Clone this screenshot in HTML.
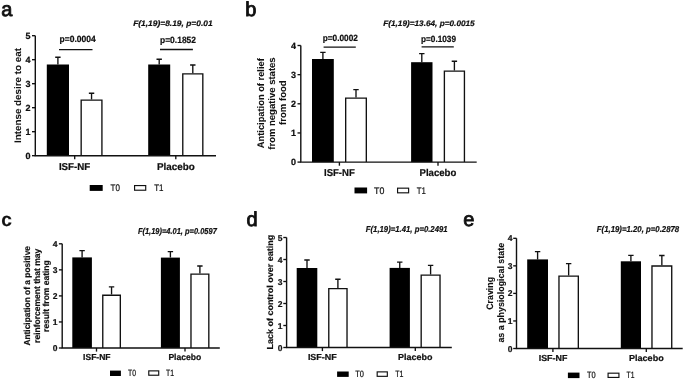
<!DOCTYPE html>
<html><head><meta charset="utf-8"><title>Figure</title>
<style>
html,body{margin:0;padding:0;background:#fff;}
body{width:685px;height:380px;overflow:hidden;}
svg{display:block;font-family:"Liberation Sans", sans-serif;filter:grayscale(1) blur(0.35px);}
text{stroke:#111;stroke-width:0.22px;text-rendering:geometricPrecision;}
</style></head><body>
<svg width="685" height="380" viewBox="0 0 685 380" fill="#111">
<rect width="685" height="380" fill="#fff"/>
<path d="M57.90 64.50 V57.20 M55.20 57.20 H60.60" stroke="#111" stroke-width="1.35"/>
<rect x="46.80" y="64.50" width="22.20" height="91.20" fill="#000"/>
<path d="M91.55 99.50 V93.20 M88.85 93.20 H94.25" stroke="#111" stroke-width="1.35"/>
<path d="M81.17 155.70 V100.17 H101.92 V155.70" fill="#fff" stroke="#111" stroke-width="1.35"/>
<path d="M159.20 64.50 V59.20 M156.50 59.20 H161.90" stroke="#111" stroke-width="1.35"/>
<rect x="148.20" y="64.50" width="22.00" height="91.20" fill="#000"/>
<path d="M192.80 73.20 V65.00 M190.10 65.00 H195.50" stroke="#111" stroke-width="1.35"/>
<path d="M182.78 155.70 V73.88 H202.82 V155.70" fill="#fff" stroke="#111" stroke-width="1.35"/>
<path d="M35.30 35.70 V155.70 H216.00" stroke="#111" stroke-width="1.4" fill="none"/>
<path d="M32.00 155.70 H35.30" stroke="#111" stroke-width="1.35"/>
<text x="30.60" y="158.94" font-size="9" font-weight="bold" text-anchor="end">0</text>
<path d="M32.00 131.70 H35.30" stroke="#111" stroke-width="1.35"/>
<text x="30.60" y="134.94" font-size="9" font-weight="bold" text-anchor="end">1</text>
<path d="M32.00 107.70 H35.30" stroke="#111" stroke-width="1.35"/>
<text x="30.60" y="110.94" font-size="9" font-weight="bold" text-anchor="end">2</text>
<path d="M32.00 83.70 H35.30" stroke="#111" stroke-width="1.35"/>
<text x="30.60" y="86.94" font-size="9" font-weight="bold" text-anchor="end">3</text>
<path d="M32.00 59.70 H35.30" stroke="#111" stroke-width="1.35"/>
<text x="30.60" y="62.94" font-size="9" font-weight="bold" text-anchor="end">4</text>
<path d="M32.00 35.70 H35.30" stroke="#111" stroke-width="1.35"/>
<text x="30.60" y="38.94" font-size="9" font-weight="bold" text-anchor="end">5</text>
<path d="M74.70 155.70 V159.30" stroke="#111" stroke-width="1.35"/>
<path d="M175.80 155.70 V159.30" stroke="#111" stroke-width="1.35"/>
<text x="74.60" y="170.00" font-size="10" font-weight="bold" text-anchor="middle" textLength="31.4" lengthAdjust="spacingAndGlyphs">ISF-NF</text>
<text x="175.90" y="169.80" font-size="10" font-weight="bold" text-anchor="middle" textLength="37.8" lengthAdjust="spacingAndGlyphs">Placebo</text>
<text x="77.60" y="42.20" font-size="9" font-weight="bold" text-anchor="middle" textLength="36.2" lengthAdjust="spacingAndGlyphs">p=0.0004</text>
<path d="M59.00 49.60 H92.50" stroke="#111" stroke-width="1.35"/>
<text x="178.00" y="42.60" font-size="9" font-weight="bold" text-anchor="middle" textLength="36.0" lengthAdjust="spacingAndGlyphs">p=0.1852</text>
<path d="M160.00 49.50 H192.90" stroke="#111" stroke-width="1.35"/>
<text x="172.90" y="26.30" font-size="8" font-weight="bold" font-style="italic" text-anchor="middle" textLength="79.4" lengthAdjust="spacingAndGlyphs">F(1,19)=8.19, p=0.01</text>
<rect x="89.70" y="185.00" width="13.00" height="5.90" fill="#000"/>
<rect x="134.57" y="185.57" width="11.15" height="4.65" fill="#fff" stroke="#111" stroke-width="1.15"/>
<text x="115.30" y="191.20" font-size="9.6" text-anchor="middle" textLength="9.4" lengthAdjust="spacingAndGlyphs">T0</text>
<text x="158.85" y="191.20" font-size="9.6" text-anchor="middle" textLength="9.3" lengthAdjust="spacingAndGlyphs">T1</text>
<text transform="translate(20.60 95.50) rotate(-90)" font-size="9.5" font-weight="bold" style="stroke-width:0.05px" text-anchor="middle" textLength="95.0" lengthAdjust="spacingAndGlyphs">Intense desire to eat</text>
<text x="1.30" y="15.80" font-size="20" text-anchor="start" style="stroke-width:0.85px">a</text>
<path d="M322.90 59.00 V52.30 M320.20 52.30 H325.60" stroke="#111" stroke-width="1.35"/>
<rect x="312.00" y="59.00" width="21.80" height="103.10" fill="#000"/>
<path d="M356.00 97.40 V89.60 M353.30 89.60 H358.70" stroke="#111" stroke-width="1.35"/>
<path d="M345.68 162.10 V98.08 H366.32 V162.10" fill="#fff" stroke="#111" stroke-width="1.35"/>
<path d="M421.80 62.20 V53.60 M419.10 53.60 H424.50" stroke="#111" stroke-width="1.35"/>
<rect x="411.10" y="62.20" width="21.40" height="99.90" fill="#000"/>
<path d="M454.40 70.40 V61.20 M451.70 61.20 H457.10" stroke="#111" stroke-width="1.35"/>
<path d="M444.38 162.10 V71.08 H464.43 V162.10" fill="#fff" stroke="#111" stroke-width="1.35"/>
<path d="M300.80 45.50 V162.10 H476.70" stroke="#111" stroke-width="1.4" fill="none"/>
<path d="M297.50 162.10 H300.80" stroke="#111" stroke-width="1.35"/>
<text x="296.00" y="165.34" font-size="9" font-weight="bold" text-anchor="end">0</text>
<path d="M297.50 132.95 H300.80" stroke="#111" stroke-width="1.35"/>
<text x="296.00" y="136.19" font-size="9" font-weight="bold" text-anchor="end">1</text>
<path d="M297.50 103.80 H300.80" stroke="#111" stroke-width="1.35"/>
<text x="296.00" y="107.04" font-size="9" font-weight="bold" text-anchor="end">2</text>
<path d="M297.50 74.65 H300.80" stroke="#111" stroke-width="1.35"/>
<text x="296.00" y="77.89" font-size="9" font-weight="bold" text-anchor="end">3</text>
<path d="M297.50 45.50 H300.80" stroke="#111" stroke-width="1.35"/>
<text x="296.00" y="48.74" font-size="9" font-weight="bold" text-anchor="end">4</text>
<path d="M339.40 162.10 V165.70" stroke="#111" stroke-width="1.35"/>
<path d="M438.00 162.10 V165.70" stroke="#111" stroke-width="1.35"/>
<text x="339.40" y="176.00" font-size="10" font-weight="bold" text-anchor="middle" textLength="30.8" lengthAdjust="spacingAndGlyphs">ISF-NF</text>
<text x="437.90" y="175.50" font-size="10" font-weight="bold" text-anchor="middle" textLength="36.8" lengthAdjust="spacingAndGlyphs">Placebo</text>
<text x="340.30" y="41.30" font-size="9" font-weight="bold" text-anchor="middle" textLength="35.2" lengthAdjust="spacingAndGlyphs">p=0.0002</text>
<path d="M323.60 47.10 H355.80" stroke="#111" stroke-width="1.35"/>
<text x="438.50" y="42.40" font-size="9" font-weight="bold" text-anchor="middle" textLength="35.0" lengthAdjust="spacingAndGlyphs">p=0.1039</text>
<path d="M421.60 46.80 H453.80" stroke="#111" stroke-width="1.35"/>
<text x="428.95" y="26.30" font-size="8" font-weight="bold" font-style="italic" text-anchor="middle" textLength="91.5" lengthAdjust="spacingAndGlyphs">F(1,19)=13.64, p=0.0015</text>
<rect x="354.50" y="187.50" width="12.60" height="5.90" fill="#000"/>
<rect x="397.57" y="188.17" width="11.05" height="4.65" fill="#fff" stroke="#111" stroke-width="1.15"/>
<text x="379.15" y="193.70" font-size="9.6" text-anchor="middle" textLength="10.3" lengthAdjust="spacingAndGlyphs">T0</text>
<text x="421.25" y="193.70" font-size="9.6" text-anchor="middle" textLength="9.1" lengthAdjust="spacingAndGlyphs">T1</text>
<text transform="translate(264.40 103.20) rotate(-90)" font-size="9.5" font-weight="bold" style="stroke-width:0.05px" text-anchor="middle" textLength="90.0" lengthAdjust="spacingAndGlyphs">Anticipation of relief</text>
<text transform="translate(274.80 103.55) rotate(-90)" font-size="9.5" font-weight="bold" style="stroke-width:0.05px" text-anchor="middle" textLength="92.3" lengthAdjust="spacingAndGlyphs">from negative states</text>
<text transform="translate(285.80 102.60) rotate(-90)" font-size="9.5" font-weight="bold" style="stroke-width:0.05px" text-anchor="middle" textLength="44.6" lengthAdjust="spacingAndGlyphs">from food</text>
<text x="245.30" y="15.80" font-size="20" text-anchor="start" style="stroke-width:0.85px">b</text>
<path d="M82.10 257.40 V250.60 M79.40 250.60 H84.80" stroke="#111" stroke-width="1.35"/>
<rect x="72.30" y="257.40" width="19.60" height="90.60" fill="#000"/>
<path d="M111.55 294.60 V286.90 M108.85 286.90 H114.25" stroke="#111" stroke-width="1.35"/>
<path d="M102.77 348.00 V295.28 H120.33 V348.00" fill="#fff" stroke="#111" stroke-width="1.35"/>
<path d="M170.40 257.60 V251.60 M167.70 251.60 H173.10" stroke="#111" stroke-width="1.35"/>
<rect x="160.90" y="257.60" width="19.00" height="90.40" fill="#000"/>
<path d="M199.90 273.40 V266.00 M197.20 266.00 H202.60" stroke="#111" stroke-width="1.35"/>
<path d="M190.98 348.00 V274.07 H208.82 V348.00" fill="#fff" stroke="#111" stroke-width="1.35"/>
<path d="M62.20 243.80 V348.00 H219.80" stroke="#111" stroke-width="1.4" fill="none"/>
<path d="M58.90 348.00 H62.20" stroke="#111" stroke-width="1.35"/>
<text x="57.50" y="351.06" font-size="8.5" font-weight="bold" text-anchor="end">0</text>
<path d="M58.90 321.95 H62.20" stroke="#111" stroke-width="1.35"/>
<text x="57.50" y="325.01" font-size="8.5" font-weight="bold" text-anchor="end">1</text>
<path d="M58.90 295.90 H62.20" stroke="#111" stroke-width="1.35"/>
<text x="57.50" y="298.96" font-size="8.5" font-weight="bold" text-anchor="end">2</text>
<path d="M58.90 269.85 H62.20" stroke="#111" stroke-width="1.35"/>
<text x="57.50" y="272.91" font-size="8.5" font-weight="bold" text-anchor="end">3</text>
<path d="M58.90 243.80 H62.20" stroke="#111" stroke-width="1.35"/>
<text x="57.50" y="246.86" font-size="8.5" font-weight="bold" text-anchor="end">4</text>
<path d="M96.50 348.00 V351.60" stroke="#111" stroke-width="1.35"/>
<path d="M185.00 348.00 V351.60" stroke="#111" stroke-width="1.35"/>
<text x="96.85" y="360.30" font-size="8.7" font-weight="bold" text-anchor="middle" textLength="27.5" lengthAdjust="spacingAndGlyphs">ISF-NF</text>
<text x="184.85" y="360.30" font-size="8.7" font-weight="bold" text-anchor="middle" textLength="32.9" lengthAdjust="spacingAndGlyphs">Placebo</text>
<text x="177.35" y="234.00" font-size="8.6" font-weight="bold" font-style="italic" text-anchor="middle" textLength="78.9" lengthAdjust="spacingAndGlyphs">F(1,19)=4.01, p=0.0597</text>
<rect x="110.00" y="370.60" width="10.90" height="5.40" fill="#000"/>
<rect x="148.77" y="370.88" width="9.95" height="4.35" fill="#fff" stroke="#111" stroke-width="1.15"/>
<text x="132.00" y="376.40" font-size="9" text-anchor="middle" textLength="8.0" lengthAdjust="spacingAndGlyphs">T0</text>
<text x="170.00" y="376.40" font-size="9" text-anchor="middle" textLength="8.0" lengthAdjust="spacingAndGlyphs">T1</text>
<text transform="translate(29.60 295.80) rotate(-90)" font-size="8.7" font-weight="bold" style="stroke-width:0.18px" text-anchor="middle" textLength="99.6" lengthAdjust="spacingAndGlyphs">Anticipation of a positive</text>
<text transform="translate(39.60 295.85) rotate(-90)" font-size="8.7" font-weight="bold" style="stroke-width:0.18px" text-anchor="middle" textLength="94.1" lengthAdjust="spacingAndGlyphs">reinforcement that may</text>
<text transform="translate(49.40 296.10) rotate(-90)" font-size="8.7" font-weight="bold" style="stroke-width:0.18px" text-anchor="middle" textLength="71.6" lengthAdjust="spacingAndGlyphs">result from eating</text>
<text x="1.20" y="225.70" font-size="19" font-weight="bold" text-anchor="start">c</text>
<path d="M307.00 268.00 V260.00 M304.30 260.00 H309.70" stroke="#111" stroke-width="1.35"/>
<rect x="296.70" y="268.00" width="20.60" height="79.50" fill="#000"/>
<path d="M337.90 288.00 V279.20 M335.20 279.20 H340.60" stroke="#111" stroke-width="1.35"/>
<path d="M328.78 347.50 V288.68 H347.02 V347.50" fill="#fff" stroke="#111" stroke-width="1.35"/>
<path d="M399.75 267.90 V262.10 M397.05 262.10 H402.45" stroke="#111" stroke-width="1.35"/>
<rect x="389.60" y="267.90" width="20.30" height="79.60" fill="#000"/>
<path d="M430.60 274.50 V265.30 M427.90 265.30 H433.30" stroke="#111" stroke-width="1.35"/>
<path d="M421.18 347.50 V275.18 H440.02 V347.50" fill="#fff" stroke="#111" stroke-width="1.35"/>
<path d="M286.60 237.50 V347.50 H451.80" stroke="#111" stroke-width="1.4" fill="none"/>
<path d="M283.30 347.50 H286.60" stroke="#111" stroke-width="1.35"/>
<text x="282.40" y="350.56" font-size="8.5" font-weight="bold" text-anchor="end">0</text>
<path d="M283.30 325.50 H286.60" stroke="#111" stroke-width="1.35"/>
<text x="282.40" y="328.56" font-size="8.5" font-weight="bold" text-anchor="end">1</text>
<path d="M283.30 303.50 H286.60" stroke="#111" stroke-width="1.35"/>
<text x="282.40" y="306.56" font-size="8.5" font-weight="bold" text-anchor="end">2</text>
<path d="M283.30 281.50 H286.60" stroke="#111" stroke-width="1.35"/>
<text x="282.40" y="284.56" font-size="8.5" font-weight="bold" text-anchor="end">3</text>
<path d="M283.30 259.50 H286.60" stroke="#111" stroke-width="1.35"/>
<text x="282.40" y="262.56" font-size="8.5" font-weight="bold" text-anchor="end">4</text>
<path d="M283.30 237.50 H286.60" stroke="#111" stroke-width="1.35"/>
<text x="282.40" y="240.56" font-size="8.5" font-weight="bold" text-anchor="end">5</text>
<path d="M322.40 347.50 V351.10" stroke="#111" stroke-width="1.35"/>
<path d="M415.30 347.50 V351.10" stroke="#111" stroke-width="1.35"/>
<text x="322.30" y="360.30" font-size="8.7" font-weight="bold" text-anchor="middle" textLength="28.8" lengthAdjust="spacingAndGlyphs">ISF-NF</text>
<text x="415.25" y="360.00" font-size="8.7" font-weight="bold" text-anchor="middle" textLength="34.3" lengthAdjust="spacingAndGlyphs">Placebo</text>
<text x="406.70" y="231.90" font-size="8.6" font-weight="bold" font-style="italic" text-anchor="middle" textLength="81.8" lengthAdjust="spacingAndGlyphs">F(1,19)=1.41, p=0.2491</text>
<rect x="337.10" y="371.50" width="11.60" height="5.40" fill="#000"/>
<rect x="377.18" y="371.88" width="10.15" height="4.45" fill="#fff" stroke="#111" stroke-width="1.15"/>
<text x="359.65" y="377.20" font-size="9" text-anchor="middle" textLength="8.7" lengthAdjust="spacingAndGlyphs">T0</text>
<text x="399.40" y="377.20" font-size="9" text-anchor="middle" textLength="8.2" lengthAdjust="spacingAndGlyphs">T1</text>
<text transform="translate(273.00 292.15) rotate(-90)" font-size="8.7" font-weight="bold" style="stroke-width:0.18px" text-anchor="middle" textLength="114.7" lengthAdjust="spacingAndGlyphs">Lack of control over eating</text>
<text x="246.40" y="225.50" font-size="20" text-anchor="start" style="stroke-width:0.85px">d</text>
<path d="M537.60 259.40 V251.60 M534.90 251.60 H540.30" stroke="#111" stroke-width="1.35"/>
<rect x="527.20" y="259.40" width="20.80" height="89.10" fill="#000"/>
<path d="M568.65 275.40 V263.60 M565.95 263.60 H571.35" stroke="#111" stroke-width="1.35"/>
<path d="M558.97 348.50 V276.07 H578.33 V348.50" fill="#fff" stroke="#111" stroke-width="1.35"/>
<path d="M630.90 261.30 V255.30 M628.20 255.30 H633.60" stroke="#111" stroke-width="1.35"/>
<rect x="620.80" y="261.30" width="20.20" height="87.20" fill="#000"/>
<path d="M661.85 265.30 V255.50 M659.15 255.50 H664.55" stroke="#111" stroke-width="1.35"/>
<path d="M651.97 348.50 V265.98 H671.73 V348.50" fill="#fff" stroke="#111" stroke-width="1.35"/>
<path d="M516.50 238.30 V348.50 H682.70" stroke="#111" stroke-width="1.4" fill="none"/>
<path d="M513.20 348.50 H516.50" stroke="#111" stroke-width="1.35"/>
<text x="512.40" y="351.56" font-size="8.5" font-weight="bold" text-anchor="end">0</text>
<path d="M513.20 320.95 H516.50" stroke="#111" stroke-width="1.35"/>
<text x="512.40" y="324.01" font-size="8.5" font-weight="bold" text-anchor="end">1</text>
<path d="M513.20 293.40 H516.50" stroke="#111" stroke-width="1.35"/>
<text x="512.40" y="296.46" font-size="8.5" font-weight="bold" text-anchor="end">2</text>
<path d="M513.20 265.85 H516.50" stroke="#111" stroke-width="1.35"/>
<text x="512.40" y="268.91" font-size="8.5" font-weight="bold" text-anchor="end">3</text>
<path d="M513.20 238.30 H516.50" stroke="#111" stroke-width="1.35"/>
<text x="512.40" y="241.36" font-size="8.5" font-weight="bold" text-anchor="end">4</text>
<path d="M552.90 348.50 V352.10" stroke="#111" stroke-width="1.35"/>
<path d="M646.30 348.50 V352.10" stroke="#111" stroke-width="1.35"/>
<text x="553.05" y="361.40" font-size="8.7" font-weight="bold" text-anchor="middle" textLength="28.7" lengthAdjust="spacingAndGlyphs">ISF-NF</text>
<text x="646.35" y="361.00" font-size="8.7" font-weight="bold" text-anchor="middle" textLength="34.7" lengthAdjust="spacingAndGlyphs">Placebo</text>
<text x="638.00" y="232.00" font-size="8.6" font-weight="bold" font-style="italic" text-anchor="middle" textLength="82.4" lengthAdjust="spacingAndGlyphs">F(1,19)=1.20, p=0.2878</text>
<rect x="567.90" y="372.60" width="11.60" height="5.50" fill="#000"/>
<rect x="608.08" y="373.18" width="10.85" height="4.25" fill="#fff" stroke="#111" stroke-width="1.15"/>
<text x="591.25" y="378.40" font-size="9" text-anchor="middle" textLength="8.7" lengthAdjust="spacingAndGlyphs">T0</text>
<text x="630.55" y="378.40" font-size="9" text-anchor="middle" textLength="7.9" lengthAdjust="spacingAndGlyphs">T1</text>
<text transform="translate(493.00 293.40) rotate(-90)" font-size="9.4" font-weight="bold" style="stroke-width:0.1px" text-anchor="middle" textLength="32.8" lengthAdjust="spacingAndGlyphs">Craving</text>
<text transform="translate(504.00 292.75) rotate(-90)" font-size="9.4" font-weight="bold" style="stroke-width:0.1px" text-anchor="middle" textLength="99.7" lengthAdjust="spacingAndGlyphs">as a physiological state</text>
<text x="463.20" y="225.50" font-size="20" text-anchor="start" style="stroke-width:0.85px">e</text>
</svg>
</body></html>
